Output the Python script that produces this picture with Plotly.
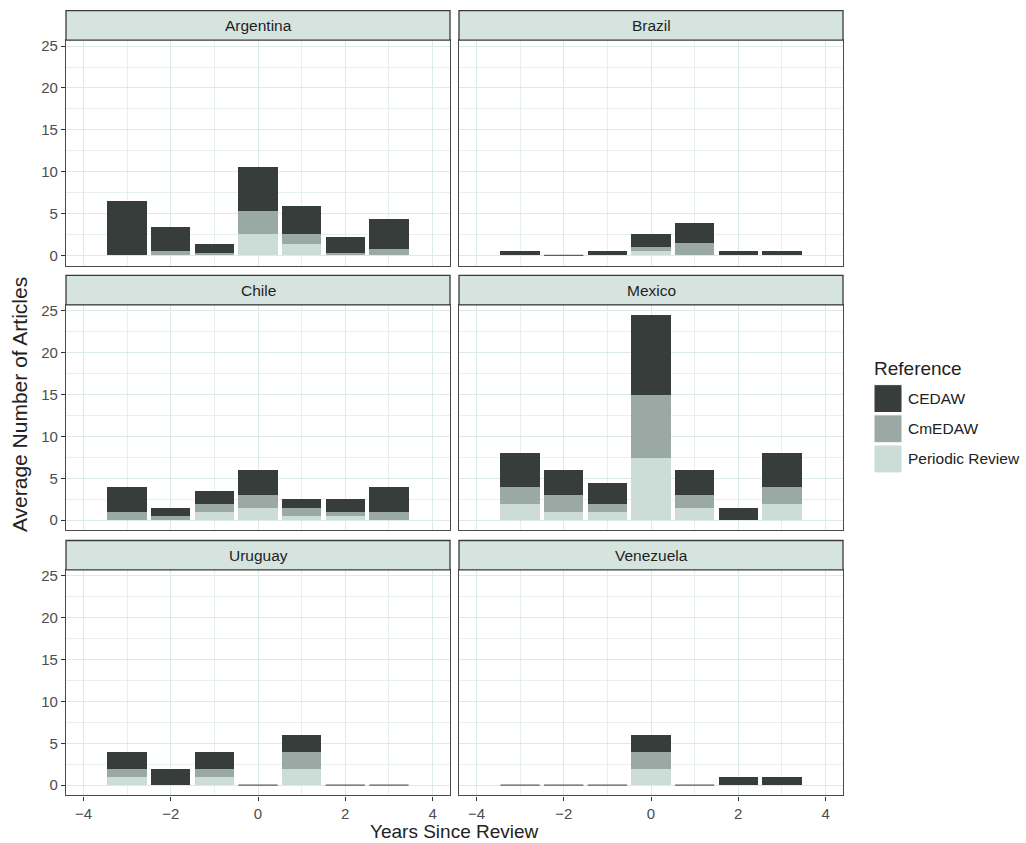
import plotly.graph_objects as go

# ---------------- data ----------------
countries = ["Argentina", "Brazil", "Chile", "Mexico", "Uruguay", "Venezuela"]
years = [-3, -2, -1, 0, 1, 2, 3]

periodic_review = {
    "Argentina": [0, 0, 0, 2.6, 1.3, 0, 0],
    "Brazil":    [0, 0, 0, 0.5, 0, 0, 0],
    "Chile":     [0, 0, 1.0, 1.5, 0.5, 0.5, 0],
    "Mexico":    [2, 1, 1, 7.5, 1.5, 0, 2],
    "Uruguay":   [1, 0, 1, 0, 2, 0, 0],
    "Venezuela": [0, 0, 0, 2, 0, 0, 0],
}
cmedaw = {
    "Argentina": [0, 0.55, 0.25, 2.7, 1.3, 0.25, 0.7],
    "Brazil":    [0, 0, 0, 0.5, 1.5, 0, 0],
    "Chile":     [1, 0.5, 1.0, 1.5, 1.0, 0.5, 1],
    "Mexico":    [2, 2, 1, 7.5, 1.5, 0, 2],
    "Uruguay":   [1, 0, 1, 0, 2, 0, 0],
    "Venezuela": [0, 0, 0, 2, 0, 0, 0],
}
cedaw = {
    "Argentina": [6.45, 2.85, 1.1, 5.25, 3.35, 2.0, 3.65],
    "Brazil":    [0.5, 0, 0.5, 1.5, 2.4, 0.5, 0.5],
    "Chile":     [3, 1.0, 1.5, 3, 1.0, 1.5, 3],
    "Mexico":    [4, 3, 2.5, 9.5, 3, 1.5, 4],
    "Uruguay":   [2, 2, 2, 0, 2, 0, 0],
    "Venezuela": [0, 0, 0, 2, 0, 1, 1],
}

x_ticks = [-4, -2, 0, 2, 4]
y_ticks = [0, 5, 10, 15, 20, 25]
series_names = ["CEDAW", "CmEDAW", "Periodic Review"]

# ---------------- style ----------------
W, H = 1026, 843
COL = {"CEDAW": "#373d3a", "CmEDAW": "#9ba9a5", "Periodic Review": "#ccdcd7"}
STRIP_FILL = "#d5e4df"
GRID_MAJ = "#dcebe7"
GRID_MIN = "#e6f1ee"
BORDER = "#4a4a4a"
FONT = "Liberation Sans, Arial, sans-serif"
BAR_W = 0.9

# panel geometry in pixels (top-left origin)
col_x = [(66, 450), (459, 843)]
row_y = [(37.2, 263.6), (302.9, 529.3), (568.9, 795.3)]
strip_h = 29.5

fig = go.Figure()

for i, c in enumerate(countries):
    r, k = divmod(i, 2)
    n = i + 1
    xa = "x" if n == 1 else f"x{n}"
    ya = "y" if n == 1 else f"y{n}"
    stacks = [("Periodic Review", periodic_review[c]),
              ("CmEDAW", cmedaw[c]),
              ("CEDAW", cedaw[c])]
    for name, vals in stacks:
        fig.add_trace(go.Bar(
            x=years, y=vals, width=BAR_W, name=name,
            marker=dict(color=COL[name], line=dict(width=0)),
            xaxis=xa, yaxis=ya, showlegend=False,
            hovertemplate=f"{c}<br>{name}: %{{y}}<extra></extra>",
        ))
    # zero-total bars drawn as thin lines
    zx, zy = [], []
    for j, yr in enumerate(years):
        tot = periodic_review[c][j] + cmedaw[c][j] + cedaw[c][j]
        if tot == 0:
            zx += [yr - BAR_W / 2, yr + BAR_W / 2, None]
            zy += [0, 0, None]
    if zx:
        fig.add_trace(go.Scatter(
            x=zx, y=zy, mode="lines", line=dict(color="#5a5f5d", width=1.3),
            xaxis=xa, yaxis=ya, showlegend=False, hoverinfo="skip"))

    x0p, x1p = col_x[k]
    y0p, y1p = row_y[r]
    xdom = [x0p / W, x1p / W]
    ydom = [(H - y1p) / H, (H - y0p) / H]
    show_x = (r == 2)
    show_y = (k == 0)
    fig.update_layout({
        ("xaxis" if n == 1 else f"xaxis{n}"): dict(
            domain=xdom, range=[-4.4, 4.4], anchor=ya,
            tickvals=x_ticks, ticktext=[str(v).replace("-", "\u2212") for v in x_ticks],
            showticklabels=show_x, ticks="outside" if show_x else "",
            ticklen=4, tickcolor="#333333", tickwidth=1,
            tickfont=dict(family=FONT, size=15, color="#4d4d4d"),
            showgrid=True, gridcolor=GRID_MAJ, gridwidth=1.3,
            minor=dict(tickvals=[-3, -1, 1, 3], showgrid=True, gridcolor=GRID_MIN, gridwidth=0.9, ticks=""),
            zeroline=False, showline=True, mirror=True, linecolor=BORDER, linewidth=1.3,
            fixedrange=True,
        ),
        ("yaxis" if n == 1 else f"yaxis{n}"): dict(
            domain=ydom, range=[-1.225, 25.725], anchor=xa,
            tickvals=y_ticks,
            showticklabels=show_y, ticks="outside" if show_y else "",
            ticklen=4, tickcolor="#333333", tickwidth=1,
            tickfont=dict(family=FONT, size=15, color="#4d4d4d"),
            showgrid=True, gridcolor=GRID_MAJ, gridwidth=1.3,
            minor=dict(tickvals=[2.5, 7.5, 12.5, 17.5, 22.5], showgrid=True, gridcolor=GRID_MIN, gridwidth=0.9, ticks=""),
            zeroline=False, showline=True, mirror=True, linecolor=BORDER, linewidth=1.3,
            fixedrange=True,
        ),
    })
    # strip
    fig.add_shape(type="rect", xref="paper", yref="paper",
                  x0=xdom[0], x1=xdom[1],
                  y0=ydom[1], y1=(H - y0p + strip_h) / H,
                  fillcolor=STRIP_FILL, line=dict(color="#3a3a3a", width=1.3), layer="above")
    fig.add_annotation(xref="paper", yref="paper",
                       x=(xdom[0] + xdom[1]) / 2, y=(H - y0p + strip_h / 2) / H,
                       text=c, showarrow=False, xanchor="center", yanchor="middle",
                       font=dict(family=FONT, size=15.5, color="#1f1f1f"))

# axis titles
fig.add_annotation(xref="paper", yref="paper", x=454.5 / W, y=(H - 831) / H,
                   text="Years Since Review", showarrow=False,
                   font=dict(family=FONT, size=19, color="#222222"),
                   xanchor="center", yanchor="middle")
fig.add_annotation(xref="paper", yref="paper", x=19.5 / W, y=(H - 403) / H,
                   text="Average Number of Articles", showarrow=False, textangle=-90,
                   font=dict(family=FONT, size=21, color="#222222"),
                   xanchor="center", yanchor="middle")

# legend (manual, ggplot style)
fig.add_annotation(xref="paper", yref="paper", x=872 / W, y=(H - 367) / H,
                   text="Reference", showarrow=False, xanchor="left", yanchor="middle",
                   font=dict(family=FONT, size=19, color="#222222"))
key_top = 383
for j, name in enumerate(series_names):
    t = key_top + j * 30.3
    fig.add_shape(type="rect", xref="paper", yref="paper",
                  x0=874 / W, x1=902 / W, y0=(H - t - 28) / H, y1=(H - t) / H,
                  fillcolor=COL[name], line=dict(color="#ffffff", width=1))
    fig.add_annotation(xref="paper", yref="paper", x=906 / W, y=(H - t - 14) / H,
                       text=name, showarrow=False, xanchor="left", yanchor="middle",
                       font=dict(family=FONT, size=15.5, color="#222222"))

fig.update_layout(
    width=W, height=H,
    margin=dict(l=0, r=0, t=0, b=0),
    paper_bgcolor="white", plot_bgcolor="white",
    barmode="stack", bargap=0,
    showlegend=False,
    font=dict(family=FONT),
)

fig.write_html("out.html",
               config={"displayModeBar": False},
               post_script="document.body.style.margin='0';document.body.style.overflow='hidden';")
